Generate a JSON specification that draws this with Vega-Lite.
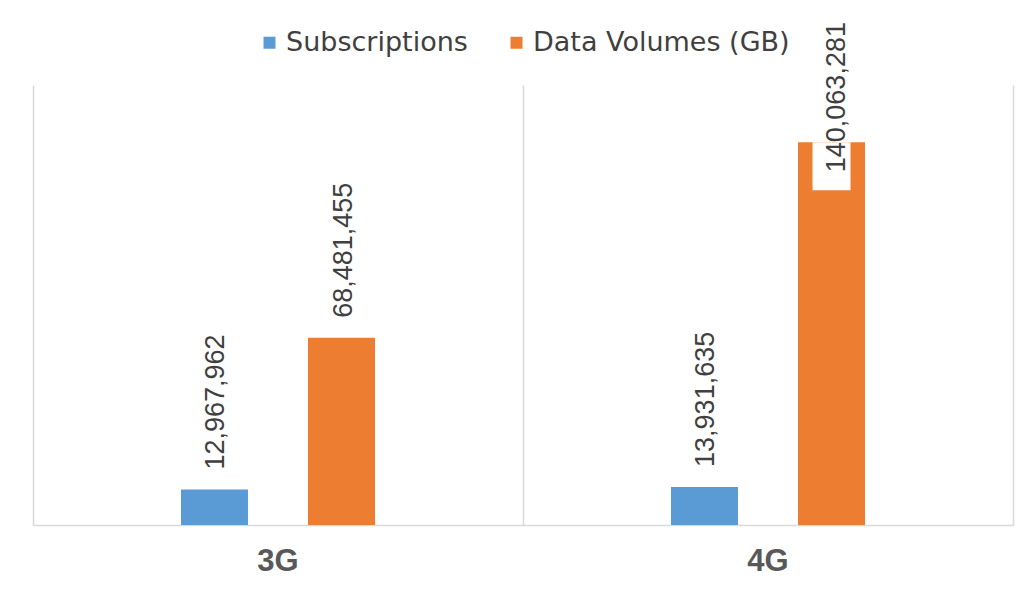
{
  "$schema": "https://vega.github.io/schema/vega-lite/v6.json",
  "autosize": {"type": "none"},
  "width": 980,
  "height": 440,
  "padding": {"left": 33, "top": 85, "right": 11, "bottom": 64},
  "background": "white",
  "config": {"view": {"stroke": null}},
  "data": {
    "values": [
      {"tech": "3G", "series": "Subscriptions", "value": 12967962},
      {"tech": "3G", "series": "Data Volumes (GB)", "value": 68481455},
      {"tech": "4G", "series": "Subscriptions", "value": 13931635},
      {"tech": "4G", "series": "Data Volumes (GB)", "value": 140063281}
    ]
  },
  "encoding": {
    "x": {
      "field": "tech",
      "type": "nominal",
      "scale": {"paddingInner": 0, "paddingOuter": 0},
      "axis": {
        "title": null,
        "labelAngle": 0,
        "labelFont": "Liberation Sans",
        "labelFontWeight": "bold",
        "labelFontSize": 31,
        "labelColor": "#595959",
        "labelPadding": 21,
        "ticks": false,
        "domainColor": "#d9d9d9",
        "domainWidth": 1.5,
        "grid": true,
        "gridColor": "#d9d9d9",
        "gridWidth": 1.5,
        "bandPosition": 0
      }
    },
    "xOffset": {
      "field": "series",
      "type": "nominal",
      "sort": ["Subscriptions", "Data Volumes (GB)"],
      "scale": {"paddingInner": 0.142, "paddingOuter": 1}
    },
    "y": {
      "field": "value",
      "type": "quantitative",
      "scale": {"domain": [0, 161000000], "nice": false},
      "axis": {
        "orient": "right",
        "title": null,
        "labels": false,
        "ticks": false,
        "grid": false,
        "domain": true,
        "domainColor": "#d9d9d9",
        "domainWidth": 1.5
      }
    }
  },
  "layer": [
    {
      "mark": {"type": "bar", "width": 67},
      "encoding": {
        "color": {
          "field": "series",
          "type": "nominal",
          "sort": ["Subscriptions", "Data Volumes (GB)"],
          "scale": {"domain": ["Subscriptions", "Data Volumes (GB)"], "range": ["#5B9BD5", "#ED7D31"]},
          "legend": {
            "title": null,
            "orient": "none",
            "direction": "horizontal",
            "legendX": 223,
            "legendY": -56,
            "padding": 0,
            "symbolType": "square",
            "symbolSize": 144,
            "symbolStrokeWidth": 0,
            "labelFont": "DejaVu Sans",
            "labelFontSize": 27,
            "labelColor": "#404040",
            "labelOffset": 3,
            "labelLimit": 400,
            "columnPadding": 35
          }
        }
      }
    },
    {
      "transform": [{"filter": "datum.value < 120000000"}],
      "mark": {"type": "text", "angle": 270, "align": "left", "baseline": "middle", "dx": 20, "dy": 2, "font": "Liberation Sans", "fontSize": 27, "color": "#404040"},
      "encoding": {"text": {"field": "value", "type": "quantitative", "format": ","}}
    },
    {
      "transform": [{"filter": "datum.value >= 120000000"}],
      "mark": {"type": "tick", "orient": "horizontal", "color": "white", "opacity": 1, "size": 38, "thickness": 48, "yOffset": 24, "xOffset": 3},
      "encoding": {}
    },
    {
      "transform": [{"filter": "datum.value >= 120000000"}],
      "mark": {"type": "text", "angle": 270, "align": "left", "baseline": "middle", "dx": -30, "dy": 5, "font": "Liberation Sans", "fontSize": 27, "color": "#404040"},
      "encoding": {"text": {"field": "value", "type": "quantitative", "format": ","}}
    }
  ]
}
